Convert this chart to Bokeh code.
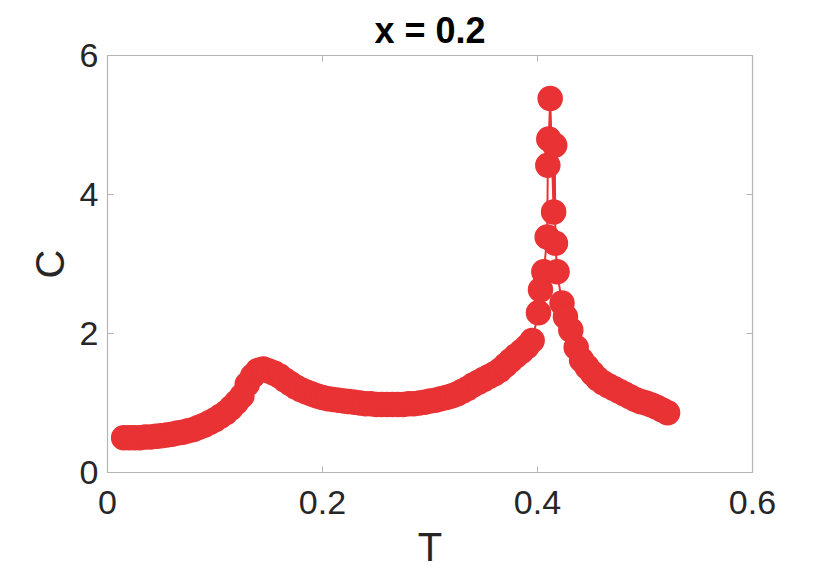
from bokeh.plotting import figure
from bokeh.models import LinearAxis, FixedTicker, Range1d
from bokeh.embed import file_html
from bokeh.resources import INLINE

# ---- data ----
T = [0.015, 0.020, 0.025, 0.030, 0.035, 0.040, 0.045, 0.050, 0.055, 0.060,
     0.065, 0.070, 0.075, 0.080, 0.085, 0.090, 0.095, 0.100, 0.105, 0.110,
     0.115, 0.120, 0.125, 0.130, 0.135, 0.140, 0.145, 0.150, 0.155, 0.160,
     0.165, 0.170, 0.175, 0.180, 0.185, 0.190, 0.195, 0.200, 0.205, 0.210,
     0.215, 0.220, 0.225, 0.230, 0.235, 0.240, 0.245, 0.250, 0.255, 0.260,
     0.265, 0.270, 0.275, 0.280, 0.285, 0.290, 0.295, 0.300, 0.305, 0.310,
     0.315, 0.320, 0.325, 0.330, 0.335, 0.340, 0.345, 0.350, 0.355, 0.360,
     0.365, 0.370, 0.375, 0.380, 0.385, 0.390, 0.395,
     0.4009, 0.4028, 0.4059, 0.4090, 0.4096, 0.4105, 0.4118, 0.4150, 0.4160,
     0.4167, 0.4182, 0.4228,
     0.426, 0.431, 0.436, 0.441, 0.446, 0.451, 0.456, 0.461, 0.466, 0.471,
     0.476, 0.481, 0.486, 0.491, 0.496, 0.501, 0.506, 0.511, 0.516, 0.521]

C = [0.50, 0.50, 0.50, 0.50, 0.51, 0.51, 0.52, 0.53, 0.54, 0.55,
     0.57, 0.58, 0.60, 0.62, 0.65, 0.68, 0.72, 0.76, 0.81, 0.86,
     0.93, 1.01, 1.10, 1.27, 1.39, 1.47, 1.49, 1.46, 1.43, 1.39,
     1.33, 1.28, 1.23, 1.19, 1.16, 1.13, 1.10, 1.08, 1.06, 1.05,
     1.04, 1.03, 1.02, 1.01, 1.00, 0.99, 0.99, 0.98, 0.98, 0.98,
     0.98, 0.98, 0.98, 0.99, 0.99, 1.00, 1.01, 1.03, 1.04, 1.06,
     1.08, 1.10, 1.13, 1.17, 1.21, 1.26, 1.30, 1.34, 1.38, 1.42,
     1.47, 1.54, 1.61, 1.68, 1.74, 1.81, 1.90,
     2.30, 2.63, 2.89, 3.39, 4.42, 4.80, 5.38, 3.75, 4.71,
     3.30, 2.89, 2.44,
     2.24, 2.05, 1.80, 1.62, 1.52, 1.43, 1.35, 1.29, 1.25, 1.21,
     1.17, 1.13, 1.09, 1.05, 1.02, 1.00, 0.97, 0.94, 0.90, 0.86]

x_ticks = [0, 0.2, 0.4, 0.6]
y_ticks = [0, 2, 4, 6]
title_text = "x = 0.2"
x_label = "T"
y_label = "C"

RED = "#e83234"
TXT = "#262626"
AX = "#b5b5b5"
FONT = "Liberation Sans"

p = figure(width=814, height=571, x_range=Range1d(0, 0.6), y_range=Range1d(0, 6),
           output_backend="svg", toolbar_location=None,
           min_border_left=107, min_border_right=62, min_border_top=55,
           min_border_bottom=98, title=title_text)

p.title.align = "center"
p.title.text_font = FONT
p.title.text_font_size = "36px"
p.title.text_font_style = "bold"
p.title.text_color = "#000000"

p.grid.visible = False
p.outline_line_color = AX
p.outline_line_width = 1.2
p.background_fill_color = "white"
p.border_fill_color = "white"

for ax in (p.xaxis[0], p.yaxis[0]):
    ax.axis_line_color = AX
    ax.major_tick_line_color = AX
    ax.major_tick_in = 6
    ax.major_tick_out = 0
    ax.minor_tick_line_color = None
    ax.major_label_text_font = FONT
    ax.major_label_text_font_size = "34px"
    ax.major_label_text_color = TXT
    ax.axis_label_text_font = FONT
    ax.axis_label_text_font_size = "40px"
    ax.axis_label_text_font_style = "normal"
    ax.axis_label_text_color = TXT

p.xaxis[0].ticker = FixedTicker(ticks=x_ticks)
p.yaxis[0].ticker = FixedTicker(ticks=y_ticks)
p.xaxis[0].major_label_overrides = {0: "0", 0.2: "0.2", 0.4: "0.4", 0.6: "0.6"}
p.xaxis.axis_label = x_label
p.yaxis.axis_label = y_label
p.xaxis.major_label_standoff = 18
p.xaxis.axis_label_standoff = 8
p.yaxis.major_label_standoff = 9
p.yaxis.axis_label_standoff = 5

# box ticks on top and right
top = LinearAxis(ticker=FixedTicker(ticks=x_ticks), major_label_text_font_size="0px",
                 axis_line_color=AX, major_tick_line_color=AX, major_tick_in=6,
                 major_tick_out=0, minor_tick_line_color=None, major_label_standoff=0)
right = LinearAxis(ticker=FixedTicker(ticks=y_ticks), major_label_text_font_size="0px",
                   axis_line_color=AX, major_tick_line_color=AX, major_tick_in=6,
                   major_tick_out=0, minor_tick_line_color=None, major_label_standoff=0)
top.major_label_text_color = None
right.major_label_text_color = None
p.add_layout(top, "above")
p.add_layout(right, "right")

p.line(T, C, line_color=RED, line_width=2)
p.scatter(T, C, size=24, fill_color=RED, line_color=RED, line_width=1.5)

open("out.html", "w").write(file_html(p, INLINE))
